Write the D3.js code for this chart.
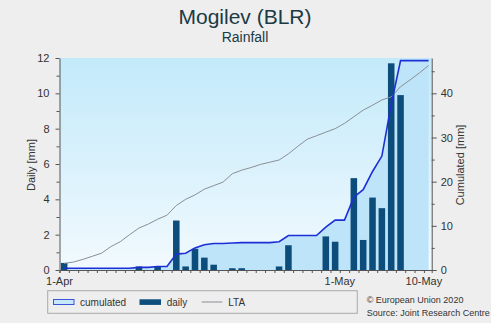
<!DOCTYPE html>
<html><head><meta charset="utf-8">
<script src="https://cdn.jsdelivr.net/npm/d3@7"></script>
<style>
body{margin:0;background:#eeeeee;}
svg{display:block;font-family:"Liberation Sans",Arial,sans-serif;}
</style></head>
<body><svg id="c" width="491" height="323"></svg>
<script>
// ---- data (1-Apr .. 10-May 2020) ----
const startDate = "2020-04-01";
const endDate = "2020-05-10";
const daily = [0.4,0,0,0,0,0,0,0,0.2,0,0.2,0,2.8,0.2,1.2,0.7,0.3,0,0.1,0.1,
               0,0,0,0.2,1.4,0,0,0,1.9,1.6,0,5.2,1.7,4.1,3.5,11.7,9.9,0,0,0];
const cumulated = [0.4,0.4,0.4,0.4,0.4,0.4,0.4,0.4,0.6,0.6,0.8,0.8,3.6,3.8,5.0,5.7,6.0,6.0,6.1,6.2,
                   6.2,6.2,6.2,6.4,7.8,7.8,7.8,7.8,9.7,11.3,11.3,16.5,18.2,22.3,25.8,37.5,47.4,47.4,47.4,47.4];
const lta = [1.5,1.8,2.4,3.1,3.8,5.3,6.4,8.0,9.5,10.4,11.5,12.4,14.6,16.0,17.0,18.3,19.1,19.9,21.8,22.6,
             23.2,23.9,24.4,24.9,26.3,28.0,29.6,30.4,31.2,32.0,33.2,34.7,36.2,37.3,38.5,39.2,41.5,43.0,44.6,46.3];
const xTickDates = ["2020-04-01","2020-05-01","2020-05-10"];
const xTickLabels = ["1-Apr","1-May","10-May"];
const leftTicks = [0,2,4,6,8,10,12];
const rightTicks = [0,10,20,30,40];
const legendLabels = ["cumulated","daily","LTA"];

const parse = d3.utcParse("%Y-%m-%d");
const days = d3.utcDay.range(parse(startDate), d3.utcDay.offset(parse(endDate),1));

const svg = d3.select("#c");
const L = 59.5, R = 431.7, T = 58, B = 270;

const x = d3.scaleUtc()
  .domain([parse(startDate), d3.utcHour.offset(parse(endDate), 20)])
  .range([L, R]);
const yL = d3.scaleLinear().domain([0,12]).range([B,T]);
const yR = d3.scaleLinear().domain([0,48]).range([B,T]);
const mid = d => d3.utcHour.offset(d, 12);

// background gradient
const defs = svg.append("defs");
const g1 = defs.append("linearGradient").attr("id","bg").attr("x1",0).attr("y1",0).attr("x2",0).attr("y2",1);
g1.append("stop").attr("offset","0%").attr("stop-color","#c3eafa");
g1.append("stop").attr("offset","55%").attr("stop-color","#dcf2fc");
g1.append("stop").attr("offset","100%").attr("stop-color","#f2fafe");
svg.append("rect").attr("x",L).attr("y",T).attr("width",R-L).attr("height",B-T).attr("fill","url(#bg)");

// cumulated area
const area = d3.area().x((d,i)=>x(mid(days[i]))).y0(yR(0)).y1(d=>yR(d));
svg.append("path").datum(cumulated).attr("d",area).attr("fill","#bde4f8");

// daily bars
const dayW = x(days[1]) - x(days[0]);
const bw = dayW*0.7;
svg.append("g").selectAll("rect").data(daily).join("rect")
  .attr("x",(d,i)=>x(mid(days[i]))-bw/2)
  .attr("width",bw)
  .attr("y",d=>yL(d))
  .attr("height",d=>yL(0)-yL(d))
  .attr("fill","#0d4d7b");

// LTA line
const line = d3.line().x((d,i)=>x(mid(days[i]))).y(d=>yR(d));
svg.append("path").datum(lta).attr("d",line).attr("fill","none").attr("stroke","#8a8f94").attr("stroke-width",1);

// cumulated line
svg.append("path").datum(cumulated).attr("d",line).attr("fill","none").attr("stroke","#1c2fd6").attr("stroke-width",1.6);

// axes
const axCol = "#555";
const gl = svg.append("g").attr("transform",`translate(${L},0)`)
  .call(d3.axisLeft(yL).tickValues(d3.range(0,12.01,1)).tickSize(0).tickFormat(""));
gl.selectAll(".tick line").remove();
gl.select(".domain").attr("stroke",axCol);
gl.selectAll(".tick").append("line").attr("stroke",axCol)
  .attr("x1",d=>d%2===0?-4:-3).attr("x2",0);
svg.append("g").attr("transform",`translate(${L-7},0)`)
  .call(d3.axisLeft(yL).tickValues(leftTicks).tickSize(0))
  .call(g=>{g.select(".domain").remove();g.selectAll("text").attr("font-size",11).attr("fill","#333").attr("font-family","Liberation Sans, Arial");});

const gr = svg.append("g").attr("transform",`translate(${R},0)`)
  .call(d3.axisRight(yR).tickValues(d3.range(0,48.01,5)).tickSize(0).tickFormat(""));
gr.select(".domain").attr("stroke",axCol);
gr.selectAll(".tick").append("line").attr("stroke",axCol)
  .attr("x1",0).attr("x2",d=>d%10===0?5:3);
svg.append("g").attr("transform",`translate(${R+6},0)`)
  .call(d3.axisRight(yR).tickValues(rightTicks).tickSize(0))
  .call(g=>{g.select(".domain").remove();g.selectAll("text").attr("font-size",11).attr("fill","#333").attr("font-family","Liberation Sans, Arial");});

const gb = svg.append("g").attr("transform",`translate(0,${B})`)
  .call(d3.axisBottom(x).tickValues(days).tickSize(3).tickFormat(""));
gb.select(".domain").attr("stroke",axCol);
gb.selectAll(".tick line").attr("stroke",axCol);
svg.append("g").selectAll("text").data(xTickDates).join("text")
  .attr("x",d=>x(parse(d))).attr("y",284.5).attr("text-anchor","middle")
  .attr("font-size",11).attr("fill","#333").text((d,i)=>xTickLabels[i]);

// axis titles
svg.append("text").attr("transform","translate(35,165) rotate(-90)").attr("text-anchor","middle")
  .attr("font-size",11).attr("fill","#333").text("Daily [mm]");
svg.append("text").attr("transform","translate(464,165) rotate(-90)").attr("text-anchor","middle")
  .attr("font-size",11).attr("fill","#333").text("Cumulated [mm]");

// titles
svg.append("text").attr("x",245).attr("y",23.5).attr("text-anchor","middle")
  .attr("font-size",21).attr("fill","#1b3a44").text("Mogilev (BLR)");
svg.append("text").attr("x",245).attr("y",42).attr("text-anchor","middle")
  .attr("font-size",14).attr("fill","#1b3a44").text("Rainfall");

// legend
svg.append("rect").attr("x",47.7).attr("y",290.7).attr("width",309.6).attr("height",22.6)
  .attr("fill","none").attr("stroke","#aaaaaa");
svg.append("rect").attr("x",53.5).attr("y",299.5).attr("width",20.5).attr("height",5)
  .attr("fill","#c6e8fa").attr("stroke","#3a55d8").attr("stroke-width",1);
svg.append("rect").attr("x",139.5).attr("y",299.3).attr("width",21.5).attr("height",5.6)
  .attr("fill","#0d4d7b");
svg.append("line").attr("x1",201.7).attr("x2",222.3).attr("y1",302).attr("y2",302)
  .attr("stroke","#8a8f94").attr("stroke-width",1);
const lx = [80,166.7,228.3];
svg.append("g").selectAll("text").data(legendLabels).join("text")
  .attr("x",(d,i)=>lx[i]).attr("y",305.8).attr("font-size",10).attr("fill","#333").text(d=>d);

// credits
svg.append("text").attr("x",366.7).attr("y",303).attr("font-size",9).attr("fill","#333").text("© European Union 2020");
svg.append("text").attr("x",366.7).attr("y",316).attr("font-size",9).attr("fill","#333").text("Source: Joint Research Centre");
</script></body></html>
